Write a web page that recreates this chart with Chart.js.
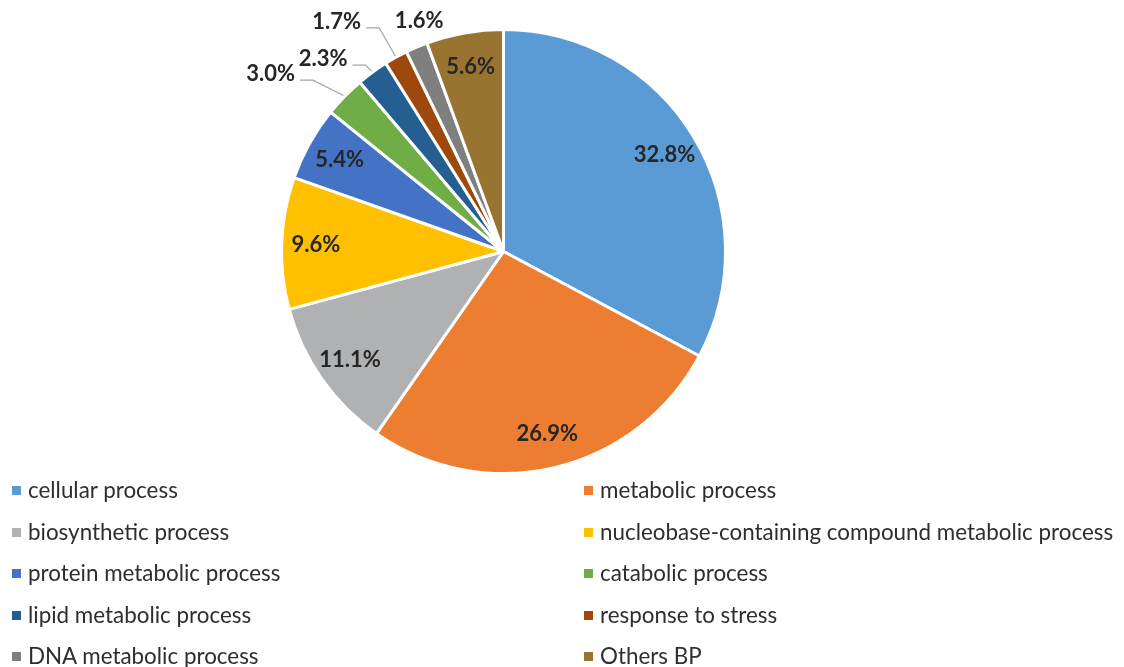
<!DOCTYPE html>
<html>
<head>
<meta charset="utf-8">
<script src="https://cdn.jsdelivr.net/npm/chart.js@4"></script>
<style>
  html, body { margin: 0; padding: 0; background: #fff; }
  #wrap { position: relative; width: 1124px; height: 667px; overflow: hidden; }
  #pie { position: absolute; left: 0; top: 0; }
  #legend { position: absolute; left: 0; top: 0; width: 1124px; height: 667px; font-family: Lato, "Open Sans", sans-serif; font-size: 22.4px; color: #2e2e2e; }
  .item { position: absolute; white-space: nowrap; line-height: 26px; }
  .box { position: absolute; width: 9px; height: 9px; top: 9px; left: -16px; }
</style>
</head>
<body>
<div id="wrap">
  <canvas id="pie" width="1124" height="667"></canvas>
  <div id="legend"></div>
</div>
<script>
const categories = [
    "cellular process",
    "metabolic process",
    "biosynthetic process",
    "nucleobase-containing compound metabolic process",
    "protein metabolic process",
    "catabolic process",
    "lipid metabolic process",
    "response to stress",
    "DNA metabolic process",
    "Others BP"
];
const percentages = [32.8, 26.9, 11.1, 9.6, 5.4, 3.0, 2.3, 1.7, 1.6, 5.6];
const pctLabels = ["32.8%", "26.9%", "11.1%", "9.6%", "5.4%", "3.0%", "2.3%", "1.7%", "1.6%", "5.6%"];

const colors = [
    "#5B9BD5", "#ED7D31", "#B0B1B3", "#FFC000", "#4472C4",
    "#70AD47", "#255E91", "#9E480E", "#7F7F7F", "#997330"
];

// small slices get their label outside with a leader line
// [radius factor, angle nudge in degrees]
const outside = {
    5: [1.31, -7],
    6: [1.18, -7],
    7: [1.27, -7],
    8: [1.10, 3]
};

const labelPlugin = {
    id: "pctLabels",
    afterDatasetsDraw(chart) {
        const ctx = chart.ctx;
        const meta = chart.getDatasetMeta(0);
        ctx.save();
        ctx.font = "bold 22px Lato, 'Open Sans', sans-serif";
        ctx.textAlign = "center";
        ctx.textBaseline = "middle";
        meta.data.forEach((arc, i) => {
            const p = arc.getProps(["x", "y", "startAngle", "endAngle", "outerRadius"], true);
            const mid = (p.startAngle + p.endAngle) / 2;
            const r = p.outerRadius + 1.5;
            const text = pctLabels[i];
            if (outside[i]) {
                const [f, nudge] = outside[i];
                const a = mid + nudge * Math.PI / 180;
                const lx = p.x + Math.cos(a) * r * f;
                const ly = p.y + Math.sin(a) * r * f;
                ctx.fillStyle = "#262626";
                ctx.fillText(text, lx, ly);
                if (i !== 8) {
                    const w = ctx.measureText(text).width;
                    const sx = lx + w / 2 + 5;
                    const sy = ly + 6;
                    const ex = p.x + Math.cos(mid) * r;
                    const ey = p.y + Math.sin(mid) * r;
                    ctx.strokeStyle = "#A6A6A6";
                    ctx.lineWidth = 1.2;
                    ctx.beginPath();
                    ctx.moveTo(sx, sy);
                    ctx.lineTo(sx + 13, sy);
                    ctx.lineTo(ex, ey);
                    ctx.stroke();
                }
            } else {
                const lx = p.x + Math.cos(mid) * r * 0.84;
                const ly = p.y + Math.sin(mid) * r * 0.84;
                ctx.fillStyle = "#262626";
                ctx.fillText(text, lx, ly);
            }
        });
        ctx.restore();
    }
};

new Chart(document.getElementById("pie"), {
    type: "pie",
    data: {
        labels: categories,
        datasets: [{
            data: percentages,
            backgroundColor: colors,
            borderColor: "#FFFFFF",
            borderWidth: 3
        }]
    },
    options: {
        responsive: false,
        animation: false,
        layout: {
            padding: { left: 280, right: 397, top: 28, bottom: 192 }
        },
        plugins: {
            legend: { display: false },
            tooltip: { enabled: false }
        }
    },
    plugins: [labelPlugin]
});

// two-column legend under the pie
const legend = document.getElementById("legend");
categories.forEach((name, i) => {
    const col = i % 2;
    const row = Math.floor(i / 2);
    const item = document.createElement("div");
    item.className = "item";
    item.style.left = (col === 0 ? 28 : 600) + "px";
    item.style.top = (477 + row * 41.5) + "px";
    const box = document.createElement("span");
    box.className = "box";
    box.style.background = colors[i];
    item.appendChild(box);
    item.appendChild(document.createTextNode(name));
    legend.appendChild(item);
});
</script>
</body>
</html>
